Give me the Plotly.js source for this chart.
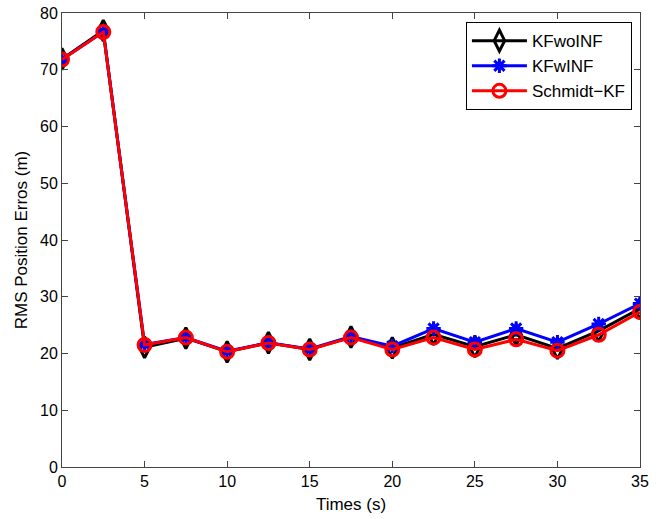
<!DOCTYPE html>
<html>
<head>
<meta charset="utf-8">
<script src="https://cdn.plot.ly/plotly-3.0.1.min.js"></script>
<style>html,body{margin:0;padding:0;background:#fff;}#chart{width:661px;height:519px;}</style>
</head>
<body>
<div id="chart"></div>
<script>
var times = [0, 2.5, 5, 7.5, 10, 12.5, 15, 17.5, 20, 22.5, 25, 27.5, 30, 32.5, 35];
var kfWoInf = [71.9, 76.9, 21.1, 22.7, 20.3, 21.9, 20.7, 22.9, 21.0, 23.4, 21.2, 23.3, 20.9, 24.0, 27.9];
var kfWInf = [71.8, 76.7, 21.6, 22.8, 20.4, 21.9, 20.8, 23.0, 21.3, 24.4, 22.0, 24.4, 22.0, 25.2, 28.8];
var schmidtKf = [71.8, 76.65, 21.5, 22.8, 20.3, 21.85, 20.7, 22.8, 20.7, 22.8, 20.7, 22.5, 20.5, 23.3, 27.3];
var seriesNames = ['KFwoINF', 'KFwINF', 'Schmidt\u2212KF'];

var traces = [
  {x: times, y: kfWoInf, name: seriesNames[0], mode: 'lines+markers',
   line: {color: '#000000', width: 3},
   marker: {symbol: 'diamond-tall-open', size: 15, color: '#000000', line: {color: '#000000', width: 3}}},
  {x: times, y: kfWInf, name: seriesNames[1], mode: 'lines+markers',
   line: {color: '#0000ff', width: 3},
   marker: {symbol: 'asterisk-open', size: 12, color: '#0000ff', line: {color: '#0000ff', width: 3}}},
  {x: times, y: schmidtKf, name: seriesNames[2], mode: 'lines+markers',
   line: {color: '#ff0000', width: 3},
   marker: {symbol: 'circle-open', size: 13, color: '#ff0000', line: {color: '#ff0000', width: 3}}}
];

var fontFam = 'Liberation Sans, Arial, sans-serif';
var axisCommon = {
  showgrid: false, zeroline: false, showline: true, linecolor: '#444444', linewidth: 1,
  mirror: 'ticks', ticks: 'inside', ticklen: 6, tickcolor: '#444444', tickwidth: 1,
  tickfont: {family: fontFam, size: 16, color: '#000000'}
};

var layout = {
  width: 661, height: 519,
  margin: {l: 62, r: 21, t: 13, b: 52},
  paper_bgcolor: '#ffffff', plot_bgcolor: '#ffffff',
  showlegend: true,
  xaxis: Object.assign({}, axisCommon, {
    range: [0, 35], dtick: 5, tick0: 0,
    title: {text: 'Times (s)', standoff: 8, font: {family: fontFam, size: 17, color: '#000000'}}
  }),
  yaxis: Object.assign({}, axisCommon, {
    range: [0, 80], dtick: 10, tick0: 0,
    title: {text: 'RMS Position Erros (m)', standoff: 8, font: {family: fontFam, size: 17, color: '#000000'}}
  }),
  legend: {
    x: 0.986, y: 0.98, xanchor: 'right', yanchor: 'top',
    bgcolor: '#ffffff', bordercolor: '#000000', borderwidth: 1,
    font: {family: fontFam, size: 17, color: '#000000'},
    tracegroupgap: 0, itemwidth: 55
  }
};

Plotly.newPlot('chart', traces, layout, {displayModeBar: false, staticPlot: true});
</script>
</body>
</html>
